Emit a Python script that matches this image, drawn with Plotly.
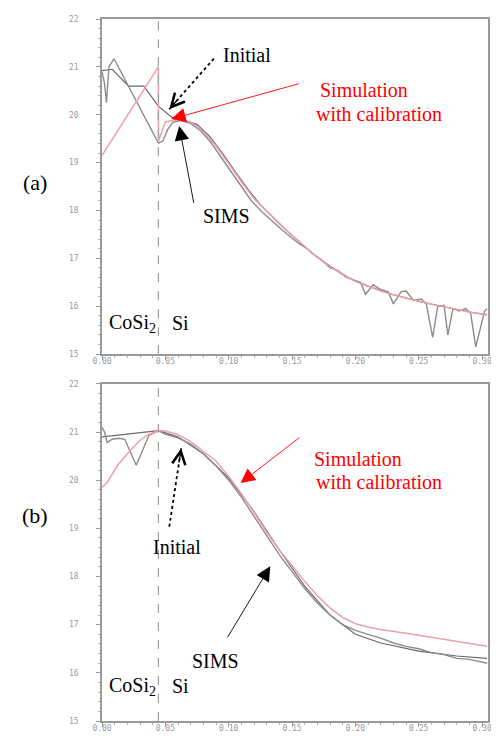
import plotly.graph_objects as go

# ---------------- data (depth in um, log10 concentration) ----------------
# Panel (a)
a_sims_x = [0.0, 0.002, 0.0035, 0.0055, 0.0095, 0.0445, 0.048, 0.052, 0.056, 0.062, 0.07, 0.078, 0.086,
            0.094, 0.102, 0.11, 0.118, 0.126, 0.134, 0.142, 0.15, 0.156, 0.162, 0.168, 0.174, 0.18,
            0.186, 0.192, 0.198, 0.204, 0.208, 0.214, 0.22, 0.226, 0.23, 0.236, 0.24, 0.246, 0.252,
            0.256, 0.261, 0.265, 0.27, 0.273, 0.277, 0.282, 0.287, 0.291, 0.295, 0.298, 0.302, 0.304]
a_sims_y = [20.9, 20.65, 20.25, 21.0, 21.17, 19.41, 19.45, 19.7, 19.84, 19.88, 19.82, 19.66, 19.42,
            19.12, 18.8, 18.5, 18.2, 17.98, 17.78, 17.6, 17.42, 17.3, 17.2, 17.06, 16.95, 16.8,
            16.75, 16.62, 16.55, 16.5, 16.25, 16.45, 16.35, 16.3, 16.05, 16.3, 16.32, 16.12, 16.15,
            16.05, 15.35, 16.0, 16.02, 15.4, 15.95, 15.9, 15.95, 15.85, 15.15, 15.5, 15.9, 15.95]
a_init_x = [0.0, 0.008, 0.021, 0.033, 0.0445, 0.055, 0.065, 0.075, 0.085, 0.095, 0.105, 0.115, 0.125,
            0.135, 0.145, 0.155, 0.165, 0.175, 0.185, 0.195, 0.21, 0.23, 0.25, 0.27, 0.29, 0.304]
a_init_y = [20.92, 20.95, 20.6, 20.6, 20.18, 19.95, 19.88, 19.8, 19.55, 19.2, 18.82, 18.45, 18.12,
            17.85, 17.6, 17.36, 17.13, 16.93, 16.75, 16.59, 16.42, 16.24, 16.1, 15.99, 15.88, 15.82]
a_sim_x = [0.0, 0.0445, 0.0446, 0.05, 0.06, 0.07, 0.08, 0.09, 0.1, 0.11, 0.12, 0.13, 0.14, 0.15,
           0.16, 0.17, 0.18, 0.19, 0.2, 0.21, 0.22, 0.23, 0.24, 0.25, 0.26, 0.27, 0.28, 0.29, 0.3, 0.304]
a_sim_y = [19.15, 21.0, 19.45, 19.85, 19.9, 19.85, 19.65, 19.35, 18.98, 18.6, 18.25, 17.98, 17.72, 17.48,
           17.24, 17.02, 16.83, 16.66, 16.52, 16.42, 16.32, 16.24, 16.17, 16.1, 16.04, 15.99, 15.93, 15.88, 15.84, 15.83]

# Panel (b)
b_sims_x = [0.0, 0.002, 0.004, 0.008, 0.013, 0.018, 0.027, 0.037, 0.0445, 0.05, 0.06, 0.07, 0.08, 0.09,
            0.1, 0.11, 0.12, 0.13, 0.14, 0.15, 0.16, 0.17, 0.18, 0.19, 0.2, 0.21, 0.22, 0.23, 0.24,
            0.25, 0.26, 0.27, 0.28, 0.29, 0.3, 0.304]
b_sims_y = [21.1, 21.0, 20.78, 20.85, 20.87, 20.85, 20.31, 20.93, 21.03, 20.95, 20.88, 20.75, 20.55, 20.3,
            20.0, 19.65, 19.25, 18.85, 18.45, 18.1, 17.75, 17.45, 17.2, 17.0, 16.88, 16.8, 16.72, 16.62, 16.55,
            16.5, 16.42, 16.38, 16.3, 16.28, 16.22, 16.2]
b_init_x = [0.0, 0.01, 0.02, 0.03, 0.0445, 0.06, 0.08, 0.1, 0.12, 0.14, 0.16, 0.18, 0.2, 0.22, 0.25,
            0.28, 0.304]
b_init_y = [20.9, 20.93, 20.97, 21.0, 21.03, 20.9, 20.55, 20.05, 19.35, 18.55, 17.8, 17.2, 16.8, 16.62,
            16.45, 16.35, 16.3]
b_sim_x = [0.0, 0.004, 0.012, 0.02, 0.03, 0.037, 0.0445, 0.05, 0.06, 0.07, 0.08, 0.09, 0.1, 0.11, 0.12,
           0.13, 0.14, 0.15, 0.16, 0.17, 0.18, 0.19, 0.2, 0.21, 0.22, 0.24, 0.26, 0.28, 0.3, 0.304]
b_sim_y = [19.85, 19.95, 20.3, 20.55, 20.83, 20.95, 21.03, 21.02, 20.95, 20.8, 20.6, 20.4, 20.08, 19.72,
           19.33, 18.92, 18.55, 18.22, 17.9, 17.6, 17.35, 17.15, 17.02, 16.95, 16.9, 16.82, 16.74, 16.66,
           16.57, 16.55]

interface_x = 0.0445
x_ticks = [0.0, 0.05, 0.10, 0.15, 0.20, 0.25, 0.30]
x_ticklabels = ["0.00", "0.05", "0.10", "0.15", "0.20", "0.25", "0.30"]
y_ticks = [15, 16, 17, 18, 19, 20, 21, 22]

# ---------------- styles ----------------
C_SIM = "#eaa0aa"
C_SIMS = "#8c8c8c"
C_INIT = "#6a6a6a"
SERIF = "Liberation Serif, Times New Roman, serif"
TICKFONT = dict(family="DejaVu Sans Mono, monospace", size=8, color="#9a9a9a")
TXT = 20

fig = go.Figure()
for xs, ys, col, w, ax in [
    (a_init_x, a_init_y, C_INIT, 1.2, ("x", "y")),
    (a_sims_x, a_sims_y, C_SIMS, 1.4, ("x", "y")),
    (a_sim_x, a_sim_y, C_SIM, 1.5, ("x", "y")),
    (b_init_x, b_init_y, C_INIT, 1.2, ("x2", "y2")),
    (b_sims_x, b_sims_y, C_SIMS, 1.4, ("x2", "y2")),
    (b_sim_x, b_sim_y, C_SIM, 1.5, ("x2", "y2")),
]:
    fig.add_trace(go.Scatter(x=xs, y=ys, mode="lines", line=dict(color=col, width=w),
                             xaxis=ax[0], yaxis=ax[1], showlegend=False, hoverinfo="skip"))

# page has an 8px body margin: size the figure so the plot lands where the reference has it
BODY = 8
W, H = 499 - BODY, 740 - BODY
L, R, T, B = 102 - BODY, 7, 15 - BODY, 17
PW, PH = W - L - R, H - T - B
XR = PW / 1280.0  # x range max


# helpers converting reference screen pixels to coordinates (annotation placement)
def dx(px):
    return (px - 102) / 1280.0


def ay(py):
    return 22 - (py - 15) / 48.3


def by(py):
    return 22 - (py - 383) / 48.57


def paper_x(px):
    return (px - 102) / PW


def paper_y(py):
    return (723 - py) / PH


axis_common = dict(showline=True, linecolor="#9a9a9a", linewidth=1.5, mirror=True,
                   ticks="outside", ticklen=4, tickcolor="#9a9a9a", tickwidth=1.2,
                   showgrid=False, zeroline=False, ticklabeloverflow="allow",
                   tickfont=TICKFONT)

xax = dict(axis_common, range=[0, XR], tickvals=x_ticks, ticktext=x_ticklabels,
           ticklabelstandoff=-5,
           minor=dict(dtick=0.01, ticks="outside", ticklen=2, tickcolor="#b0b0b0"))
yax = dict(axis_common, range=[15, 22], tickvals=y_ticks, ticklabelstandoff=16,
           minor=dict(dtick=0.2, ticks="outside", ticklen=2, tickcolor="#b0b0b0"))

fig.update_layout(
    width=W, height=H, margin=dict(l=L, r=R, t=T, b=B),
    paper_bgcolor="white", plot_bgcolor="white",
    xaxis=dict(xax, domain=[0, 1], anchor="y"),
    yaxis=dict(yax, domain=[(723 - 353) / PH, 1], anchor="x"),
    xaxis2=dict(xax, domain=[0, 1], anchor="y2"),
    yaxis2=dict(yax, domain=[0, (723 - 383) / PH], anchor="x2"),
)

# interface dashed lines
for xr, yr in [("x", "y"), ("x2", "y2")]:
    fig.add_shape(type="line", xref=xr, yref=yr, x0=interface_x, x1=interface_x, y0=15, y1=22,
                  line=dict(color="#a0a0a0", width=1.2, dash="dash"))

ann = []


def text(s, px, py, color="black", size=TXT, xanchor="center"):
    ann.append(dict(text=s, x=paper_x(px), y=paper_y(py), xref="paper", yref="paper",
                    showarrow=False, xanchor=xanchor, yanchor="middle",
                    font=dict(family=SERIF, size=size, color=color)))


def arrow(tail, head, panel, color="black", head_style=2, size=2.6, width=1.0):
    fy = ay if panel == "a" else by
    xr, yr = ("x", "y") if panel == "a" else ("x2", "y2")
    ann.append(dict(text="", x=dx(head[0]), y=fy(head[1]), ax=dx(tail[0]), ay=fy(tail[1]),
                    xref=xr, yref=yr, axref=xr, ayref=yr, showarrow=True,
                    arrowhead=head_style, arrowsize=size, arrowwidth=width, arrowcolor=color,
                    standoff=0))


def dotted_arrow(tail, head, panel):
    fy = ay if panel == "a" else by
    xr, yr = ("x", "y") if panel == "a" else ("x2", "y2")
    fig.add_shape(type="line", xref=xr, yref=yr, x0=dx(tail[0]), y0=fy(tail[1]),
                  x1=dx(head[0]), y1=fy(head[1]), line=dict(color="black", width=1.8, dash="dot"))
    # arrow segment along the dotted line that carries the open head
    vx, vy = head[0] - tail[0], head[1] - tail[1]
    n = (vx ** 2 + vy ** 2) ** 0.5
    st = (head[0] - vx / n * 16, head[1] - vy / n * 16)
    arrow(st, head, panel, head_style=5, size=2.0, width=1.3)


# panel (a)
text("(a)", 34, 180, size=22)
text("Initial", 248, 51)
dotted_arrow((215, 55), (170, 106), "a")
text("Simulation", 367, 87, color="red")
text("with calibration", 382, 111, color="red")
arrow((302, 80), (172, 116), "a", color="red", head_style=2, size=3.2, width=0.9)
text("SIMS", 228, 214)
arrow((195, 202), (180, 123), "a", head_style=2, size=3.2, width=0.9)
text("CoSi<sub>2</sub>", 107, 322, xanchor="left")
text("Si", 181, 322)

# panel (b)
text("(b)", 34, 516, size=22)
text("Initial", 178, 548)
dotted_arrow((170, 527), (182, 448), "b")
text("Simulation", 361, 459, color="red")
text("with calibration", 382, 482, color="red")
arrow((303, 436), (242, 483), "b", color="red", head_style=2, size=3.2, width=0.9)
text("SIMS", 217, 662)
arrow((228, 640), (272, 567), "b", head_style=2, size=3.2, width=0.9)
text("CoSi<sub>2</sub>", 107, 688, xanchor="left")
text("Si", 181, 688)

fig.update_layout(annotations=ann)
fig.write_html("out.html")
